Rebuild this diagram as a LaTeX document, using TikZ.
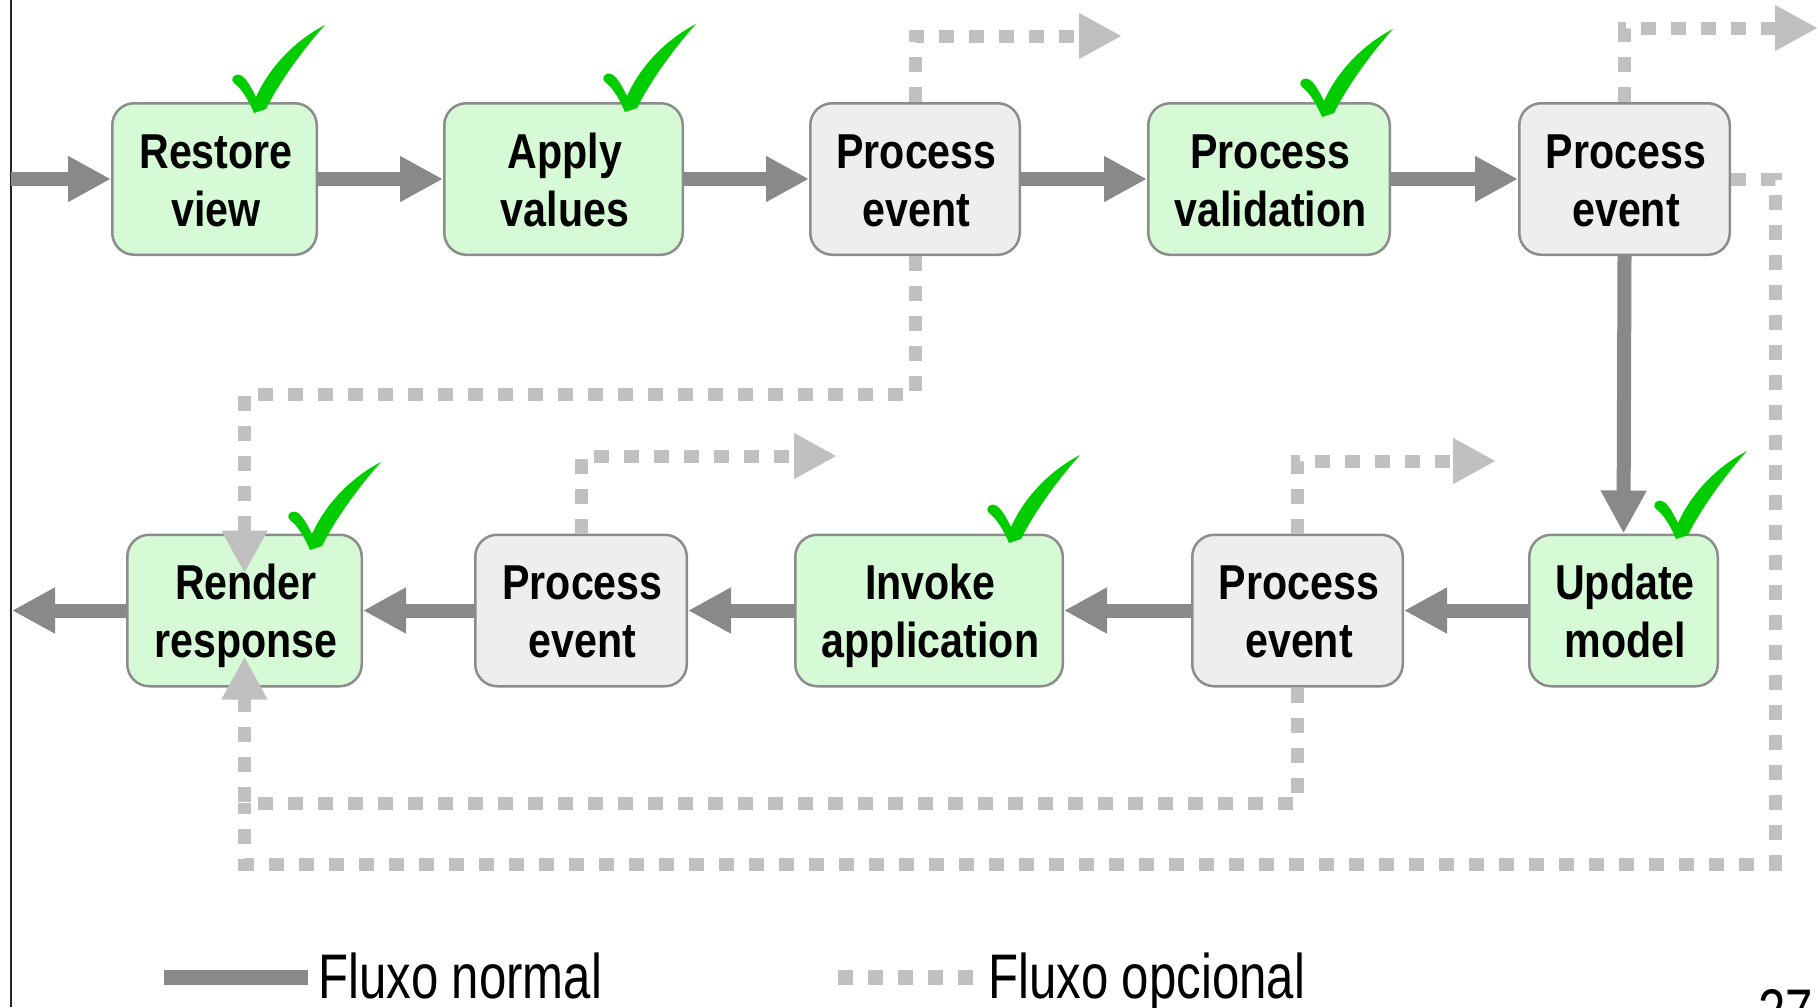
\documentclass[tikz,border=0pt]{standalone}
\usepackage{fontspec}
\setmainfont{Liberation Sans}
\newfontfamily\boxfont[FakeStretch=0.84]{Liberation Sans}
\newfontfamily\legfont[FakeStretch=0.78]{Liberation Sans}
\usetikzlibrary{arrows.meta,calc}
\definecolor{gfill}{RGB}{213,250,213}
\definecolor{pfill}{RGB}{238,238,238}
\definecolor{bord}{RGB}{140,140,140}
\definecolor{flowc}{RGB}{137,137,137}
\definecolor{optc}{RGB}{192,192,192}
\definecolor{chk}{RGB}{0,204,0}
\begin{document}
\begin{tikzpicture}[x=1pt,y=-1pt,
  box/.style={draw=bord, line width=2.5pt, rounded corners=22pt, minimum height=151.5pt, inner sep=0pt},
  gbox/.style={box, fill=gfill},
  pbox/.style={box, fill=pfill},
  lbl/.style={font=\boxfont\bfseries\fontsize{49}{58}\selectfont, align=center, anchor=north, inner sep=0pt},
  flow/.style={color=flowc, line width=14pt, -{Triangle[length=43pt,width=43pt]}},
  opt/.style={draw=optc, line width=13pt, dash pattern=on 15pt off 15pt},
  optarrow/.style={opt, -{Triangle[length=43pt,width=43pt,fill=optc,color=optc]}},
  legtext/.style={font=\legfont\fontsize{63}{70}\selectfont, inner sep=0pt, anchor=base west},
  chkmark/.pic={\fill[chk] (0,0) .. controls (-5,-12) and (-12,-24) .. (-20,-30)
      .. controls (-24,-33) and (-21,-40) .. (-14,-38)
      .. controls (-8,-36) and (-2,-24) .. (2,-16)
      .. controls (15,-45) and (40,-72) .. (71,-88)
      .. controls (60,-76) and (30,-40) .. (12,-4)
      -- cycle;}
]
\useasboundingbox (0,0) rectangle (1818,1007);

% slide border
\coordinate (bt) at (11,0);
\coordinate (bb) at (11,1007);
\draw[line width=1.5pt, black!85] (bt) -- (bb);

% boxes
\node[gbox, minimum width=204.5pt] (b1) at (214.5,179) {};
\node[gbox, minimum width=238.5pt] (b2) at (563.5,179) {};
\node[pbox, minimum width=209.5pt] (b3) at (915,179) {};
\node[gbox, minimum width=241.5pt] (b4) at (1269,179) {};
\node[pbox, minimum width=210.5pt] (b5) at (1624.5,179) {};
\node[gbox, minimum width=234.5pt] (b6) at (244.5,610.5) {};
\node[pbox, minimum width=211.5pt] (b7) at (581,610.5) {};
\node[gbox, minimum width=267.5pt] (b8) at (929,610.5) {};
\node[pbox, minimum width=210.5pt] (b9) at (1297.5,610.5) {};
\node[gbox, minimum width=188.5pt] (b10) at (1623.5,610.5) {};

% normal flow
\coordinate (in) at (11,179);
\coordinate (out) at (12,610.5);
\draw[flow] (in) -- (b1.west);
\draw[flow] (b1.east) -- (b2.west);
\draw[flow] (b2.east) -- (b3.west);
\draw[flow] (b3.east) -- (b4.west);
\draw[flow] (b4.east) -- (b5.west);
\draw[flow] (b5.south) -- (b10.north);
\draw[flow] (b10.west) -- (b9.east);
\draw[flow] (b9.west) -- (b8.east);
\draw[flow] (b8.west) -- (b7.east);
\draw[flow] (b7.west) -- (b6.east);
\draw[flow] (b6.west) -- (out);

% optional flow
\coordinate (oA) at (1122,36);
\coordinate (oB) at (1818,28);
\coordinate (oF) at (837,456);
\coordinate (oG) at (1496,461);
\coordinate (cC) at (244.5,394);
\coordinate (jD) at (244.5,803);
\coordinate (eC) at (1775,864);
\draw[optarrow] (b3.north) |- (oA);
\draw[optarrow] (b5.north) |- (oB);
\draw[optarrow] (b7.north) |- (oF);
\draw[optarrow] (b9.north) |- (oG);
\draw[optarrow] (b3.south) |- (cC) -- ($(b6.north)+(0,40)$);
\draw[opt] (b5.east) -| (eC) -| (jD);
\draw[optarrow] (b9.south) |- (jD) -- ($(b6.south)+(0,-31)$);

% labels
\node[lbl] (t1) at ($(b1.center)+(1.5,-48)$) {\rule{0pt}{37pt}Restore\\view};
\node[lbl] (t2) at ($(b2.center)+(1.5,-48)$) {\rule{0pt}{37pt}Apply\\values};
\node[lbl] (t3) at ($(b3.center)+(1.5,-48)$) {\rule{0pt}{37pt}Process\\event};
\node[lbl] (t4) at ($(b4.center)+(1.5,-48)$) {\rule{0pt}{37pt}Process\\validation};
\node[lbl] (t5) at ($(b5.center)+(1.5,-48)$) {\rule{0pt}{37pt}Process\\event};
\node[lbl] (t6) at ($(b6.center)+(1.5,-48)$) {\rule{0pt}{37pt}Render\\response};
\node[lbl] (t7) at ($(b7.center)+(1.5,-48)$) {\rule{0pt}{37pt}Process\\event};
\node[lbl] (t8) at ($(b8.center)+(1.5,-48)$) {\rule{0pt}{37pt}Invoke\\application};
\node[lbl] (t9) at ($(b9.center)+(1.5,-48)$) {\rule{0pt}{37pt}Process\\event};
\node[lbl] (t10) at ($(b10.center)+(1.5,-48)$) {\rule{0pt}{37pt}Update\\model};

% check marks
\pic (k1) at (254,113) {chkmark};
\pic (k2) at (625,112) {chkmark};
\pic (k3) at (1322,117) {chkmark};
\pic (k4) at (310,550) {chkmark};
\pic (k5) at (1009,543) {chkmark};
\pic (k6) at (1676,539) {chkmark};

% legend
\coordinate (ls1) at (164,977.5);
\coordinate (ls2) at (308,977.5);
\draw[color=flowc, line width=15pt] (ls1) -- (ls2);
\node[legtext] (lt1) at (318,998) {Fluxo normal};
\coordinate (lo1) at (838,977.5);
\coordinate (lo2) at (975,977.5);
\draw[opt, line width=15pt] (lo1) -- (lo2);
\node[legtext] (lt2) at (988,998) {Fluxo opcional};
\node[legtext] (pg) at (1758,1033) {27};
\end{tikzpicture}
\end{document}
